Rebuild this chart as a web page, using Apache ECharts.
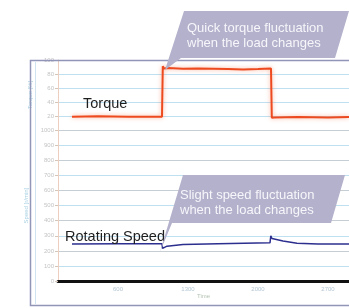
<!DOCTYPE html>
<html>
<head>
<meta charset="utf-8">
<script src="https://cdn.jsdelivr.net/npm/echarts@6/dist/echarts.min.js"></script>
<style>
  html, body { margin: 0; padding: 0; background: #fff; }
  #chart { width: 349px; height: 308px; }
</style>
</head>
<body>
<div id="chart"></div>
<script>
// time in ms, torque in %, speed in r/min
const torqueTime = [140, 400, 700, 1040, 1048, 1060, 1100, 1250, 1400, 1550, 1700, 1850, 2000, 2130, 2138, 2160, 2400, 2700, 2910];
const torqueValue = [19, 19.5, 19, 19, 91, 88, 88.5, 87.5, 88, 87.5, 87, 86.5, 87, 88, 17.5, 18, 18.5, 18, 18.5];
const speedTime = [140, 600, 1040, 1046, 1090, 1250, 1600, 2120, 2128, 2140, 2250, 2390, 2600, 2910];
const speedValue = [246, 247, 247, 217, 231, 242, 248, 253, 299, 282, 265, 250, 246, 246];
const timeTicks = [600, 1300, 2000, 2700];
const notes = [
  ["Quick torque fluctuation", "when the load changes"],
  ["Slight speed fluctuation", "when the load changes"]
];

const chart = echarts.init(document.getElementById("chart"));
const font = "Liberation Sans";
const tiny = { fontSize: 6, color: "#c4c4c4", fontFamily: font, formatter: (v) => String(v) };

chart.setOption({
  animation: false,
  grid: [
    { left: 58, right: 0, top: 60, height: 70 },
    { left: 58, right: 0, top: 130, height: 157 }
  ],
  xAxis: [
    { gridIndex: 0, type: "value", min: 0, max: 2910, show: false },
    {
      gridIndex: 1, type: "value", min: 0, max: 2910,
      name: "Time", nameLocation: "middle", nameGap: 11,
      nameTextStyle: { fontSize: 6, color: "#b5c4b5", fontFamily: font },
      axisLine: { lineStyle: { color: "#111", width: 3 } },
      axisTick: { show: false },
      splitLine: { show: false },
      axisLabel: { customValues: timeTicks, margin: 5, fontSize: 6, color: "#b4c6d4", fontFamily: font, formatter: (v) => String(v) }
    }
  ],
  yAxis: [
    {
      gridIndex: 0, type: "value", min: 0, max: 100, interval: 20,
      name: "Torque [%]", nameLocation: "middle", nameRotate: 90, nameGap: 18,
      nameTextStyle: { fontSize: 6, color: "#a9d1e3", fontFamily: font },
      axisLine: { show: true, lineStyle: { color: "#eccfbf" } },
      axisTick: { show: true, length: 3, lineStyle: { color: "#d9c4b8" } },
      axisLabel: Object.assign({ margin: 4, showMinLabel: false }, tiny),
      splitLine: { lineStyle: { color: "#bfe0f1", width: 1.2 } }
    },
    {
      gridIndex: 1, type: "value", min: 0, max: 1000, interval: 100,
      name: "Speed [r/min]", nameLocation: "middle", nameRotate: 90, nameGap: 18,
      nameTextStyle: { fontSize: 6, color: "#a9d1e3", fontFamily: font },
      axisLine: { show: true, lineStyle: { color: "#eccfbf" } },
      axisTick: { show: true, length: 3, lineStyle: { color: "#d9c4b8" } },
      axisLabel: Object.assign({ margin: 4 }, tiny),
      splitLine: { lineStyle: { color: ["#c6ced3", "#bfe0f1"], width: 1.2 } }
    }
  ],
  series: [
    {
      type: "line", xAxisIndex: 0, yAxisIndex: 0, symbol: "none",
      data: torqueTime.map((t, i) => [t, torqueValue[i]]),
      lineStyle: { color: "#ee4a1f", width: 2, shadowBlur: 4, shadowColor: "rgba(245,120,80,0.6)" },
      z: 5
    },
    {
      type: "line", xAxisIndex: 1, yAxisIndex: 1, symbol: "none",
      data: speedTime.map((t, i) => [t, speedValue[i]]),
      lineStyle: { color: "#2c2f8e", width: 1.5 },
      z: 5
    }
  ],
  graphic: [
    { type: "rect", shape: { x: 30.5, y: 60.5, width: 330, height: 245 }, style: { fill: null, stroke: "#9195b8", lineWidth: 1.5 }, z: 10 },
    { type: "line", shape: { x1: 35.5, y1: 62, x2: 35.5, y2: 304 }, style: { stroke: "#cfe4ef", lineWidth: 1 }, z: 10 },
    { type: "text", left: 83, top: 96, style: { text: "Torque", fontSize: 14.5, fill: "#1e1e1e", fontFamily: font }, z: 20 },
    { type: "text", left: 65, top: 229, style: { text: "Rotating Speed", fontSize: 14.5, fill: "#1e1e1e", fontFamily: font }, z: 20 },
    {
      type: "polygon", z: 30,
      shape: { points: [[184, 11], [349, 11], [335, 58], [181, 58], [165, 70]] },
      style: { fill: "#b3b1cb" }
    },
    {
      type: "text", left: 187, top: 21, z: 31,
      style: { text: notes[0].join("\n"), fontSize: 13, lineHeight: 15, fill: "#f7f6fb", fontFamily: font }
    },
    {
      type: "polygon", z: 30,
      shape: { points: [[183, 175], [345, 175], [331, 223], [172, 223], [160, 252]] },
      style: { fill: "#b3b1cb" }
    },
    {
      type: "text", left: 180, top: 188, z: 31,
      style: { text: notes[1].join("\n"), fontSize: 13, lineHeight: 15, fill: "#f7f6fb", fontFamily: font }
    }
  ]
});
</script>
</body>
</html>
